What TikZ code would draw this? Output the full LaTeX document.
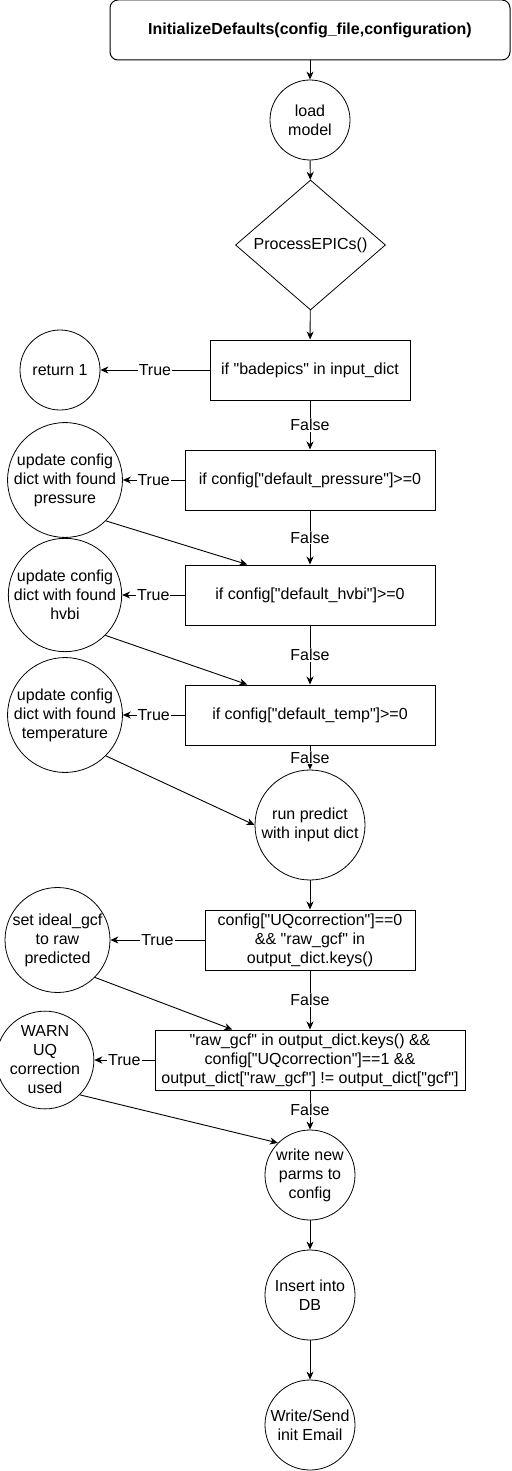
\documentclass[tikz,border=0pt]{standalone}
\usepackage{fontspec}
\setmainfont{Liberation Sans}[Ligatures=TeXOff]
\usetikzlibrary{shapes.geometric,arrows.meta,calc}
\begin{document}
\begin{tikzpicture}[x=1pt,y=-1pt,
  every node/.style={font=\fontsize{16}{19}\selectfont, align=center},
  boxnode/.style={draw, line width=1pt, inner sep=0pt, minimum height=60pt},
  circnode/.style={draw, circle, line width=0.8pt, inner sep=0pt},
  decnode/.style={draw, diamond, line width=0.8pt, inner sep=0pt, minimum width=150pt, minimum height=130pt},
  flow/.style={line width=0.9pt, -{Stealth[length=8pt,width=7pt,inset=2.5pt]}},
  lbl/.style={fill=white, inner sep=1pt, midway}
]
\useasboundingbox (0,0) rectangle (511,1471);

\node[boxnode, rounded corners=8pt, minimum width=400pt, font=\fontsize{16}{19}\selectfont\bfseries] (start) at (310,30) {InitializeDefaults(config\_file,configuration)};
\node[circnode, minimum size=80pt] (load) at (310,120) {load\\model};
\node[decnode] (epics) at (310.5,245) {ProcessEPICs()};
\node[boxnode, minimum width=200pt] (bad) at (310,370) {if "badepics" in input\_dict};
\node[circnode, minimum size=80pt] (ret) at (60,370) {return 1};
\node[boxnode, minimum width=250pt] (pres) at (310,480) {if config["default\_pressure"]>=0};
\node[circnode, minimum size=110pt] (upres) at (65,480) {update config\\dict with found\\pressure};
\node[boxnode, minimum width=250pt] (hvbi) at (310,595) {if config["default\_hvbi"]>=0};
\node[circnode, minimum size=110pt] (uhvbi) at (65,595) {update config\\dict with found\\hvbi};
\node[boxnode, minimum width=250pt] (temp) at (310,715) {if config["default\_temp"]>=0};
\node[circnode, minimum size=110pt] (utemp) at (65,715) {update config\\dict with found\\temperature};
\node[circnode, minimum size=110pt] (pred) at (310,825) {run predict\\with input dict};
\node[boxnode, minimum width=210pt] (uq0) at (310,940) {config["UQcorrection"]==0\\\&\& "raw\_gcf" in\\output\_dict.keys()};
\node[circnode, minimum size=105pt] (ideal) at (57.5,940) {set ideal\_gcf\\to raw\\predicted};
\node[boxnode, minimum width=310pt] (uq1) at (310,1060) {"raw\_gcf" in output\_dict.keys() \&\&\\config["UQcorrection"]==1 \&\&\\output\_dict["raw\_gcf"] != output\_dict["gcf"]};
\node[circnode, minimum size=90pt] (warn) at (45,1060) {WARN\\UQ\\correction\\used};
\node[circnode, minimum size=90pt] (write) at (310,1175) {write new\\parms to\\config};
\node[circnode, minimum size=90pt] (db) at (310,1295) {Insert into\\DB};
\node[circnode, minimum size=90pt] (mail) at (310,1425) {Write/Send\\init Email};

\draw[flow] (start) -- (load);
\draw[flow] (load) -- (epics);
\draw[flow] (epics) -- (bad);
\draw[flow] (bad) -- node[lbl] {True} (ret);
\draw[flow] (bad) -- node[lbl] {False} (pres);
\draw[flow] (pres) -- node[lbl] {True} (upres);
\draw[flow] (pres) -- node[lbl] {False} (hvbi);
\draw[flow] (hvbi) -- node[lbl] {True} (uhvbi);
\draw[flow] (hvbi) -- node[lbl] {False} (temp);
\draw[flow] (temp) -- node[lbl] {True} (utemp);
\draw[flow] (temp) -- node[lbl] {False} (pred);
\draw[flow] (upres.-45) -- ($(hvbi.north west)!0.25!(hvbi.north east)$);
\draw[flow] (uhvbi.-45) -- ($(temp.north west)!0.25!(temp.north east)$);
\draw[flow] (utemp.-45) -- (pred.west);
\draw[flow] (pred) -- (uq0);
\draw[flow] (uq0) -- node[lbl] {True} (ideal);
\draw[flow] (uq0) -- node[lbl] {False} (uq1);
\draw[flow] (ideal.-45) -- ($(uq1.north west)!0.25!(uq1.north east)$);
\draw[flow] (uq1) -- node[lbl] {True} (warn);
\draw[flow] (uq1) -- node[lbl] {False} (write);
\draw[flow] (warn.-45) -- (write.north west);
\draw[flow] (write) -- (db);
\draw[flow] (db) -- (mail);
\end{tikzpicture}
\end{document}
